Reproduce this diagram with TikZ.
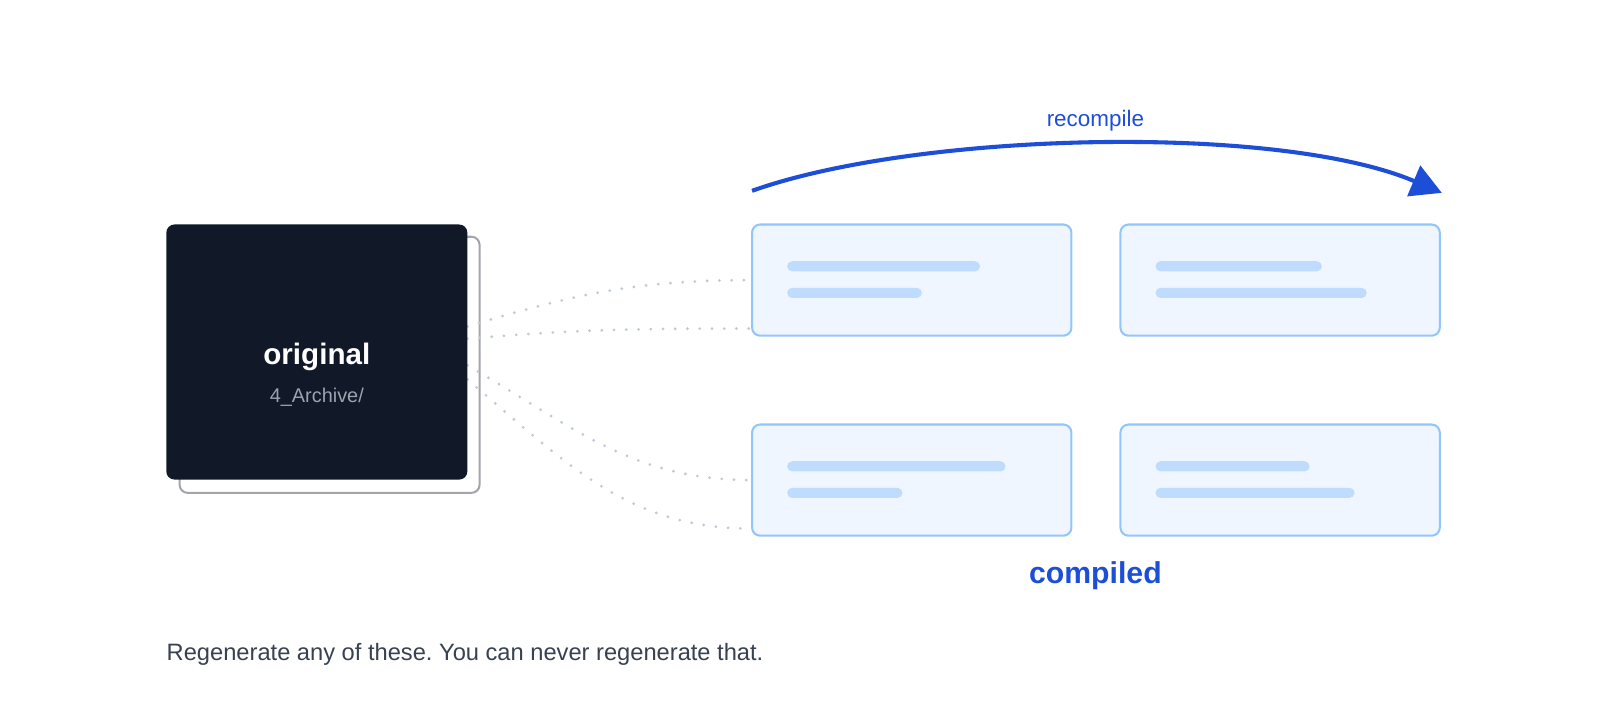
\documentclass[tikz,border=0pt]{standalone}
\usepackage{fontspec}
\setmainfont{Liberation Sans}
\usetikzlibrary{arrows.meta,positioning}
\definecolor{inkdark}{RGB}{17,24,39}
\definecolor{backedge}{RGB}{163,164,172}
\definecolor{subgray}{RGB}{156,163,175}
\definecolor{cardfill}{RGB}{239,246,255}
\definecolor{cardedge}{RGB}{147,197,253}
\definecolor{barfill}{RGB}{191,219,254}
\definecolor{wiregray}{RGB}{192,201,214}
\definecolor{recblue}{RGB}{29,78,216}
\definecolor{captext}{RGB}{55,65,81}
\frenchspacing
\begin{document}
\begin{tikzpicture}[x=0.5pt,y=-0.5pt,
    card/.style={draw=cardedge,fill=cardfill,line width=1pt,rounded corners=4pt,
      minimum width=156.5pt,minimum height=54.5pt,inner sep=0pt},
    bar/.style={fill=barfill,rounded corners=2.5pt,minimum height=5pt,
      inner sep=0pt,anchor=west},
    wire/.style={draw=wiregray,line width=1.5pt,line cap=round,
      dash pattern=on 0pt off 6pt}]
  \useasboundingbox (0,0) rectangle (1568,690);
  % the stacked original
  \node[draw=backedge,fill=white,line width=1pt,rounded corners=4pt,
        minimum width=147pt,minimum height=125.5pt] (back) at (323,357.5) {};
  \coordinate (o1) at (458,320);
  \coordinate (o2) at (458,332);
  \coordinate (o3) at (458,358);
  \coordinate (o4) at (458,372);
  % compiled copies
  \node[card] (tl) at (893.5,274.5) {};
  \node[card] (tr) at (1254.5,274.5) {};
  \node[card] (bl) at (893.5,470.5) {};
  \node[card] (br) at (1254.5,470.5) {};
  \draw[wire] (o1) to[out=17,in=180] (tl.west);
  \draw[wire] (o2) to[out=5,in=180] ([yshift=4pt]tl.south west);
  \draw[wire] (o3) to[out=-30,in=180] (bl.west);
  \draw[wire] (o4) to[out=-40,in=180] ([yshift=4pt]bl.south west);
  \node[fill=inkdark,rounded corners=4pt,minimum width=147.5pt,
        minimum height=125pt] (orig) at (310.5,345) {};
  \node[anchor=base,text=white,font=\bfseries\fontsize{14.5pt}{17pt}\selectfont]
       (origname) at (310.5,357) {original};
  \node[anchor=base,text=subgray,font=\fontsize{9.75pt}{12pt}\selectfont]
       (origpath) at (310.5,394) {4\_Archive/};
  \node[bar,minimum width=94.5pt] (tla) at (771,261) {};
  \node[bar,minimum width=66pt] (tlb) at (771,287) {};
  \node[bar,minimum width=81.5pt] (tra) at (1132,261) {};
  \node[bar,minimum width=103.5pt] (trb) at (1132,287) {};
  \node[bar,minimum width=107pt] (bla) at (771,457) {};
  \node[bar,minimum width=56.5pt] (blb) at (771,483) {};
  \node[bar,minimum width=75.5pt] (bra) at (1132,457) {};
  \node[bar,minimum width=97.5pt] (brb) at (1132,483) {};
  \node[anchor=base,text=recblue,font=\bfseries\fontsize{14.8pt}{17pt}\selectfont]
       (compiled) at (1073.5,572) {compiled};
  % recompile arrow
  \coordinate (recA) at (737,187);
  \coordinate (recB) at (1413,189);
  \draw[recblue,line width=2pt,-{Triangle[length=15pt,width=16pt]}]
       (recA) .. controls +(163,-58) and +(-160,-68) .. (recB);
  \node[anchor=base,text=recblue,font=\fontsize{11pt}{13pt}\selectfont]
       (reclabel) at (1073.5,124) {recompile};
  \node[anchor=base west,inner sep=0pt,text=captext,
        font=\fontsize{11.6pt}{14pt}\selectfont]
       (caption) at (163,647) {Regenerate any of these. You can never regenerate that.};
\end{tikzpicture}
\end{document}
